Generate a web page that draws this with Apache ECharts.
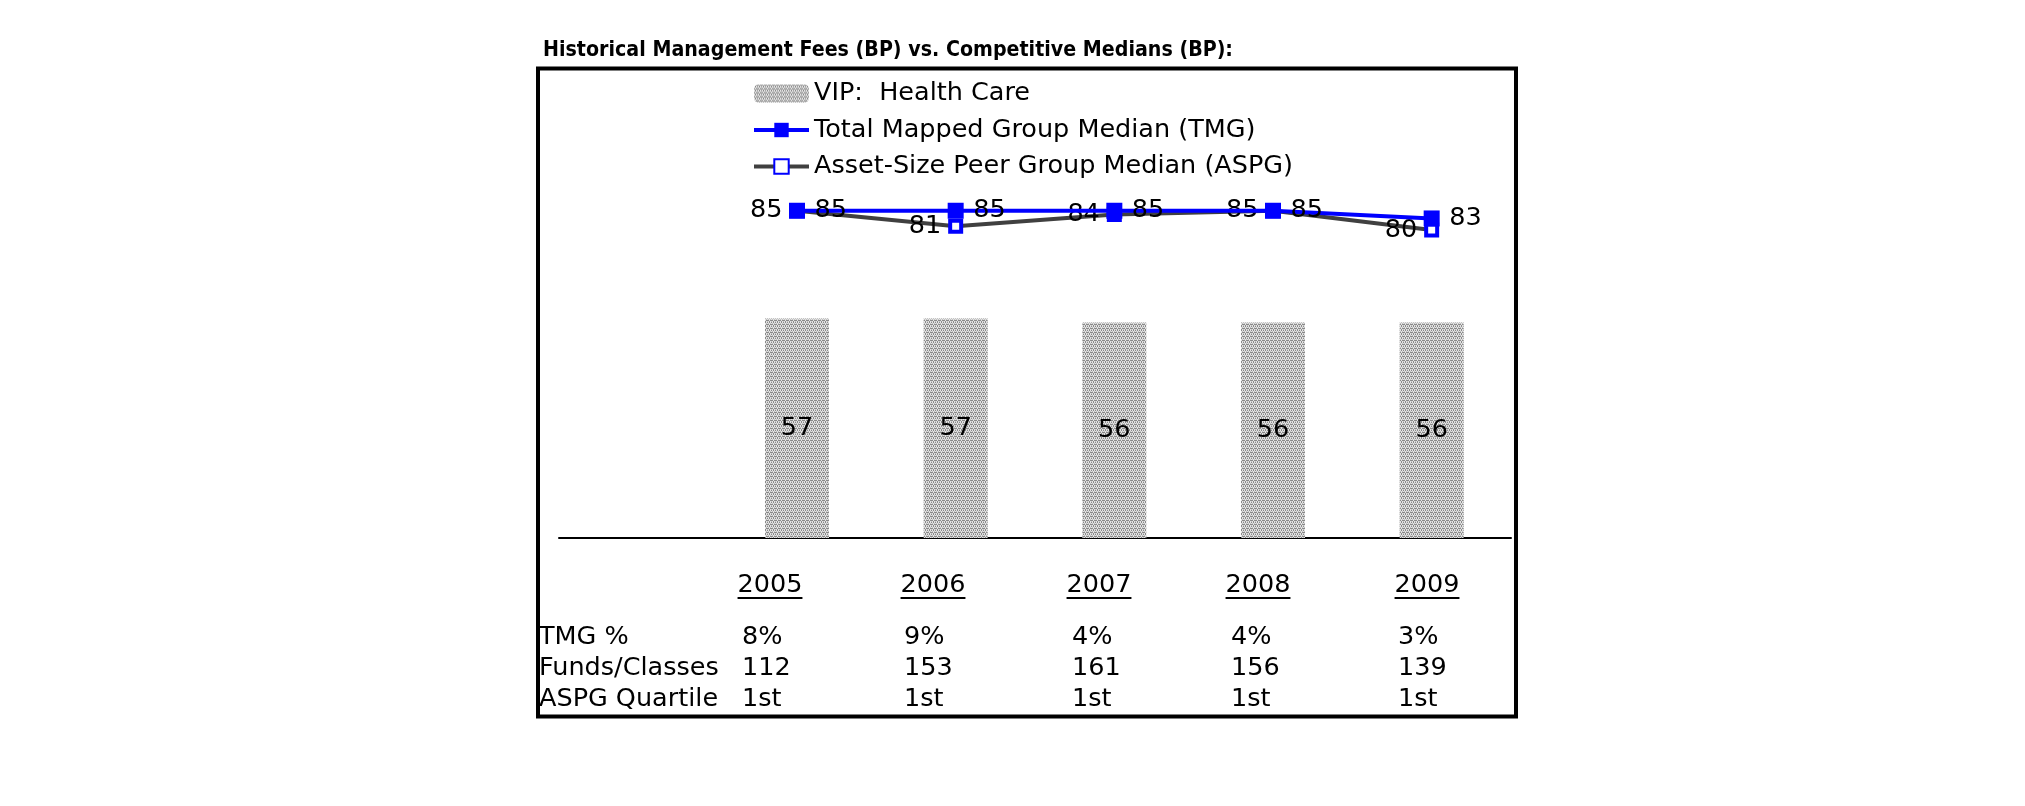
<!DOCTYPE html>
<html>
<head>
<meta charset="utf-8">
<script src="https://cdn.jsdelivr.net/npm/echarts@6/dist/echarts.min.js"></script>
<style>
html,body{margin:0;padding:0;background:#fff;}
#c{width:2025px;height:806px;}
</style>
</head>
<body>
<div id="c"></div>
<script>
// ---- data ----
const categories = ['', '2005', '2006', '2007', '2008', '2009'];
const years = ['2005', '2006', '2007', '2008', '2009'];
const vipFees = [null, 57, 57, 56, 56, 56];
const tmgMedian = [null, 85, 85, 85, 85, 83];
const aspgMedian = [null, 85, 81, 84, 85, 80];
const rowLabels = ['TMG %', 'Funds/Classes', 'ASPG Quartile'];
const tmgPct = ['8%', '9%', '4%', '4%', '3%'];
const fundsClasses = ['112', '153', '161', '156', '139'];
const aspgQuartile = ['1st', '1st', '1st', '1st', '1st'];
const titleText = 'Historical Management Fees (BP) vs. Competitive Medians (BP):';
const seriesNames = ['VIP:  Health Care', 'Total Mapped Group Median (TMG)', 'Asset-Size Peer Group Median (ASPG)'];

// ---- layout ----
const FONT = '"DejaVu Sans", Verdana, sans-serif';
const FS = 25.5;
const TITLE_FS = 22;
const TITLE_WIDTH = 690;
const yearCenter = [770, 933, 1099, 1258, 1427];
const valueLeft = [742, 904, 1072, 1231, 1398];
const yearRowY = 585;
const rowYs = [637, 668, 699];
const rowLabelX = 539;

// stipple pattern for bars
const pc = document.createElement('canvas');
pc.width = 4; pc.height = 4;
const pg = pc.getContext('2d');
pg.fillStyle = '#e4e4e4'; pg.fillRect(0, 0, 4, 4);
pg.fillStyle = '#8a8a8a';
[[0,0],[2,0],[1,2],[3,2],[3,0],[1,1]].forEach(p => pg.fillRect(p[0], p[1], 1, 1));
pg.fillStyle = '#c0c0c0';
[[0,3],[2,3],[3,1]].forEach(p => pg.fillRect(p[0], p[1], 1, 1));
const stipple = { image: pc, repeat: 'repeat' };

// text measurement
const mc = document.createElement('canvas').getContext('2d');
mc.font = FS + 'px ' + FONT;
const mt = document.createElement('canvas').getContext('2d');
mt.font = 'bold ' + TITLE_FS + 'px ' + FONT;
const titleScale = TITLE_WIDTH / mt.measureText(titleText).width;

const graphics = [];
graphics.push({
  type: 'rect', silent: true, z: 10,
  shape: { x: 538, y: 68.5, width: 978, height: 648 },
  style: { fill: 'none', stroke: '#000', lineWidth: 4 }
});
graphics.push({
  type: 'text', x: 543, y: 50, z: 10, scaleX: titleScale, scaleY: 1,
  style: { text: titleText, fontFamily: FONT, fontSize: TITLE_FS, fontWeight: 'bold', fill: '#000', verticalAlign: 'middle', align: 'left' }
});
rowLabels.forEach((t, r) => {
  graphics.push({ type: 'text', x: rowLabelX, y: rowYs[r], z: 10,
    style: { text: t, fontFamily: FONT, fontSize: FS, fill: '#000', verticalAlign: 'middle', align: 'left' } });
});
years.forEach((y, i) => {
  graphics.push({ type: 'text', x: yearCenter[i], y: yearRowY, z: 10,
    style: { text: y, fontFamily: FONT, fontSize: FS, fill: '#000', verticalAlign: 'middle', align: 'center' } });
  const w = mc.measureText(y).width;
  graphics.push({ type: 'line', z: 10, silent: true,
    shape: { x1: yearCenter[i] - w / 2, y1: yearRowY + 13, x2: yearCenter[i] + w / 2, y2: yearRowY + 13 },
    style: { stroke: '#000', lineWidth: 2 } });
  [tmgPct, fundsClasses, aspgQuartile].forEach((arr, r) => {
    graphics.push({ type: 'text', x: valueLeft[i], y: rowYs[r], z: 10,
      style: { text: arr[i], fontFamily: FONT, fontSize: FS, fill: '#000', verticalAlign: 'middle', align: 'left' } });
  });
});

const chart = echarts.init(document.getElementById('c'), null, { renderer: 'canvas' });
chart.setOption({
  backgroundColor: '#fff',
  animation: false,
  textStyle: { fontFamily: FONT },
  grid: { left: 559, right: 514, top: 76, bottom: 268, containLabel: false },
  legend: {
    data: [
      { name: seriesNames[0] },
      { name: seriesNames[1], lineStyle: { width: 4 } },
      { name: seriesNames[2], lineStyle: { width: 4 } }
    ],
    orient: 'vertical',
    left: 752, top: 80.5,
    padding: 0,
    itemWidth: 55, itemHeight: 18, itemGap: 10.5,
    selectedMode: false,
    textStyle: { fontFamily: FONT, fontSize: FS, color: '#000', lineHeight: 25 }
  },
  xAxis: {
    type: 'category', data: categories, boundaryGap: true,
    axisLine: { lineStyle: { color: '#000', width: 2 } },
    axisTick: { show: false }, axisLabel: { show: false }, splitLine: { show: false }
  },
  yAxis: { type: 'value', min: 0, max: 120, show: false, splitLine: { show: false } },
  series: [
    {
      name: seriesNames[0], type: 'bar', data: vipFees, barWidth: 64, z: 2,
      itemStyle: { color: stipple },
      label: { show: true, position: 'inside', fontFamily: FONT, fontSize: FS, color: '#000' }
    },
    {
      name: seriesNames[2], type: 'line', data: aspgMedian, z: 3,
      symbol: 'rect', symbolSize: 11,
      lineStyle: { color: '#404040', width: 4 },
      itemStyle: { color: '#ffffff', borderColor: '#0000ff', borderWidth: 4 },
      label: { show: true, position: 'left', distance: 7, fontFamily: FONT, fontSize: FS, color: '#000' }
    },
    {
      name: seriesNames[1], type: 'line', data: tmgMedian, z: 4,
      symbol: 'rect', symbolSize: 16,
      lineStyle: { color: '#0000ff', width: 4 },
      itemStyle: { color: '#0000ff' },
      label: { show: true, position: 'right', distance: 9.5, fontFamily: FONT, fontSize: FS, color: '#000' }
    }
  ],
  graphic: graphics
});
</script>
</body>
</html>
